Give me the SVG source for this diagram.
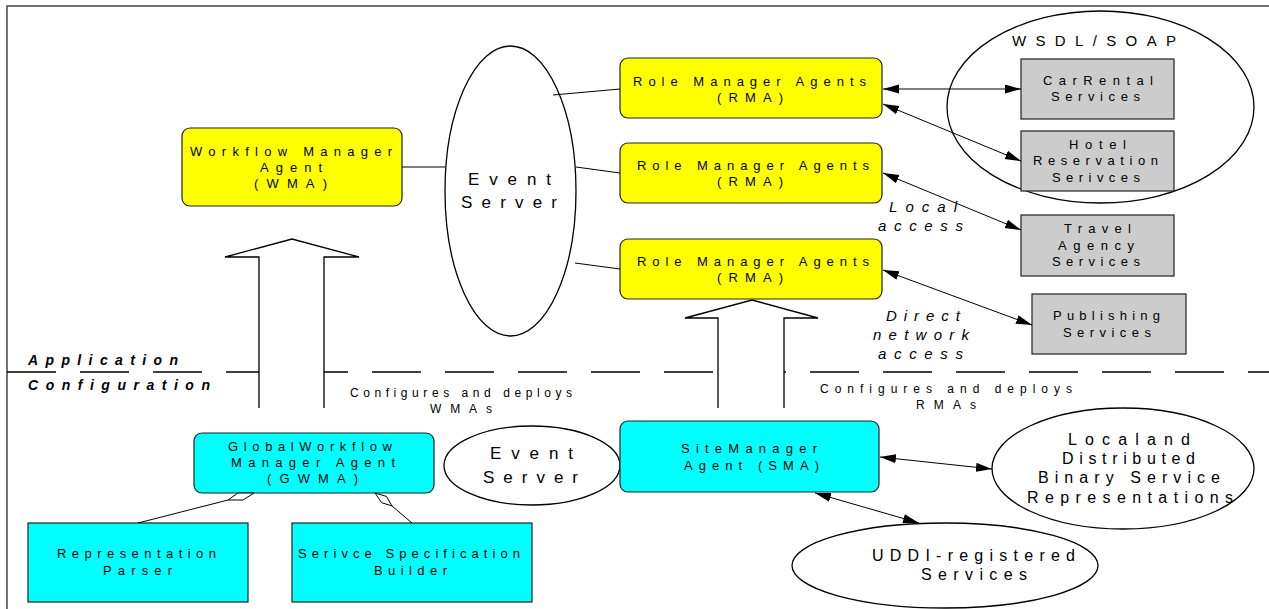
<svg xmlns="http://www.w3.org/2000/svg" width="1269" height="609" viewBox="0 0 1269 609">
  <defs>
    <style>
      text { font-family: "Liberation Sans", Arial, sans-serif; fill: #000; }
      .lbl { font-size: 13px; }
      .es { font-size: 17px; }
      .big { font-size: 16px; }
      .it { font-size: 15px; font-style: italic; }
      .layer { font-size: 14px; font-style: italic; font-weight: bold; }
      .cfg { font-size: 12px; }
      .yellow { fill: #ffff00; stroke: #222; stroke-width: 1.2; }
      .cyan { fill: #00ffff; stroke: #222; stroke-width: 1.2; }
      .grey { fill: #cccccc; stroke: #222; stroke-width: 1.2; }
      .oval { fill: #fff; stroke: #000; stroke-width: 1.3; }
      .line { fill: none; stroke: #000; stroke-width: 1; }
      .dbl { fill: none; stroke: #000; stroke-width: 1; marker-start: url(#head); marker-end: url(#head); }
      .hollow { fill: #fff; stroke: #000; stroke-width: 1.3; }
      .diamond { fill: #fff; stroke: #000; stroke-width: 1; }
    </style>
    <marker id="head" markerUnits="userSpaceOnUse" markerWidth="16" markerHeight="10" refX="16" refY="4.5" orient="auto-start-reverse">
      <path d="M0,0 L16,4.5 L0,9 z" fill="#000"/>
    </marker>
  </defs>

  <rect x="0" y="0" width="1269" height="609" fill="#fff"/>

  <!-- frame -->
  <path d="M7,609 V6 H1269" fill="none" stroke="#444" stroke-width="1.5"/>

  <!-- layer separator -->
  <line x1="7" y1="372" x2="1269" y2="372" stroke="#000" stroke-width="1.5" stroke-dasharray="49 24"/>
  <text class="layer" x="28" y="365" textLength="150" lengthAdjust="spacing">Application</text>
  <text class="layer" x="28" y="390" textLength="182" lengthAdjust="spacing">Configuration</text>

  <!-- deployment arrows -->
  <g id="deploy-wma">
    <polyline class="hollow" points="259,408 259,257 225,257 292,239 359,257 324,257 324,408"/>
    <text class="cfg" x="350" y="397" textLength="222" lengthAdjust="spacing">Configures and deploys</text>
    <text class="cfg" x="430" y="413" textLength="62" lengthAdjust="spacing">WMAs</text>
  </g>
  <g id="deploy-rma">
    <polyline class="hollow" points="718,408 718,318 685,318 752,300 818,318 784,318 784,408"/>
    <text class="cfg" x="820" y="393" textLength="252" lengthAdjust="spacing">Configures and deploys</text>
    <text class="cfg" x="916" y="409" textLength="60" lengthAdjust="spacing">RMAs</text>
  </g>

  <!-- access labels -->
  <g id="access-labels">
    <text class="it" x="889" y="212" textLength="68" lengthAdjust="spacing">Local</text>
    <text class="it" x="878" y="231" textLength="85" lengthAdjust="spacing">access</text>
    <text class="it" x="886" y="321" textLength="74" lengthAdjust="spacing">Direct</text>
    <text class="it" x="873" y="340" textLength="96" lengthAdjust="spacing">network</text>
    <text class="it" x="878" y="359" textLength="85" lengthAdjust="spacing">access</text>
  </g>

  <!-- application layer -->
  <g id="wma">
    <rect class="yellow" x="182" y="128" width="220" height="78" rx="8"/>
    <text class="lbl" x="190" y="156" textLength="202" lengthAdjust="spacing">Workflow Manager</text>
    <text class="lbl" x="260" y="172" textLength="62" lengthAdjust="spacing">Agent</text>
    <text class="lbl" x="254" y="188" textLength="73" lengthAdjust="spacing">(WMA)</text>
  </g>

  <g id="event-server">
    <ellipse class="oval" cx="510.5" cy="191" rx="65.5" ry="145"/>
    <text class="es" x="468" y="185" textLength="83" lengthAdjust="spacing">Event</text>
    <text class="es" x="461" y="208" textLength="96" lengthAdjust="spacing">Server</text>
  </g>

  <g id="rma-1">
    <rect class="yellow" x="620" y="58" width="262" height="60" rx="8"/>
    <text class="lbl" x="633" y="86" textLength="233" lengthAdjust="spacing">Role Manager Agents</text>
    <text class="lbl" x="717" y="102" textLength="66" lengthAdjust="spacing">(RMA)</text>
  </g>
  <g id="rma-2">
    <rect class="yellow" x="620" y="143" width="262" height="60" rx="8"/>
    <text class="lbl" x="637" y="170" textLength="232" lengthAdjust="spacing">Role Manager Agents</text>
    <text class="lbl" x="717" y="186" textLength="66" lengthAdjust="spacing">(RMA)</text>
  </g>
  <g id="rma-3">
    <rect class="yellow" x="620" y="239" width="262" height="60" rx="8"/>
    <text class="lbl" x="637" y="266" textLength="232" lengthAdjust="spacing">Role Manager Agents</text>
    <text class="lbl" x="717" y="282" textLength="66" lengthAdjust="spacing">(RMA)</text>
  </g>

  <g id="wsdl-soap">
    <ellipse class="oval" cx="1100.5" cy="107" rx="153.5" ry="96"/>
    <text x="1012" y="46" font-size="15" textLength="164" lengthAdjust="spacing">WSDL/SOAP</text>
  </g>

  <g id="car-rental">
    <rect class="grey" x="1021" y="59" width="153" height="60"/>
    <text class="lbl" x="1043" y="85" textLength="110" lengthAdjust="spacing">CarRental</text>
    <text class="lbl" x="1051" y="101" textLength="89" lengthAdjust="spacing">Services</text>
  </g>
  <g id="hotel">
    <rect class="grey" x="1021" y="131" width="153" height="60"/>
    <text class="lbl" x="1069" y="149" textLength="57" lengthAdjust="spacing">Hotel</text>
    <text class="lbl" x="1033" y="165" textLength="125" lengthAdjust="spacing">Reservation</text>
    <text class="lbl" x="1052" y="182" textLength="88" lengthAdjust="spacing">Serivces</text>
  </g>
  <g id="travel">
    <rect class="grey" x="1021" y="215" width="153" height="61"/>
    <text class="lbl" x="1064" y="233" textLength="67" lengthAdjust="spacing">Travel</text>
    <text class="lbl" x="1058" y="250" textLength="76" lengthAdjust="spacing">Agency</text>
    <text class="lbl" x="1052" y="266" textLength="88" lengthAdjust="spacing">Services</text>
  </g>
  <g id="publishing">
    <rect class="grey" x="1032" y="294" width="154" height="60"/>
    <text class="lbl" x="1053" y="320" textLength="107" lengthAdjust="spacing">Publishing</text>
    <text class="lbl" x="1063" y="337" textLength="88" lengthAdjust="spacing">Services</text>
  </g>

  <!-- configuration layer -->
  <g id="gwma">
    <rect class="cyan" x="194" y="433" width="240" height="60" rx="8"/>
    <text class="lbl" x="228" y="451" textLength="164" lengthAdjust="spacing">GlobalWorkflow</text>
    <text class="lbl" x="231" y="467" textLength="164" lengthAdjust="spacing">Manager Agent</text>
    <text class="lbl" x="267" y="483" textLength="91" lengthAdjust="spacing">(GWMA)</text>
  </g>

  <g id="event-server-cfg">
    <ellipse class="oval" cx="532" cy="465.5" rx="88" ry="39.5"/>
    <text class="es" x="490" y="459" textLength="83" lengthAdjust="spacing">Event</text>
    <text class="es" x="483" y="483" textLength="95" lengthAdjust="spacing">Server</text>
  </g>

  <g id="sma">
    <rect class="cyan" x="620" y="421" width="259" height="71" rx="8"/>
    <text class="lbl" x="681" y="453" textLength="136" lengthAdjust="spacing">SiteManager</text>
    <text class="lbl" x="684" y="470" textLength="135" lengthAdjust="spacing">Agent (SMA)</text>
  </g>

  <g id="representation-parser">
    <rect class="cyan" x="28" y="523" width="220" height="79"/>
    <text class="lbl" x="57" y="558" textLength="159" lengthAdjust="spacing">Representation</text>
    <text class="lbl" x="103" y="575" textLength="69" lengthAdjust="spacing">Parser</text>
  </g>

  <g id="spec-builder">
    <rect class="cyan" x="292" y="523" width="240" height="79"/>
    <text class="lbl" x="298" y="558" textLength="222" lengthAdjust="spacing">Serivce Specification</text>
    <text class="lbl" x="374" y="575" textLength="73" lengthAdjust="spacing">Builder</text>
  </g>

  <g id="local-binary">
    <ellipse class="oval" cx="1123" cy="468.5" rx="131" ry="60.5"/>
    <text class="big" x="1068" y="445" textLength="122" lengthAdjust="spacing">Localand</text>
    <text class="big" x="1062" y="464" textLength="133" lengthAdjust="spacing">Distributed</text>
    <text class="big" x="1038" y="483" textLength="182" lengthAdjust="spacing">Binary Service</text>
    <text class="big" x="1027" y="503" textLength="206" lengthAdjust="spacing">Representations</text>
  </g>

  <g id="uddi">
    <ellipse class="oval" cx="945" cy="565.5" rx="153" ry="42.5"/>
    <text class="big" x="872" y="561" textLength="203" lengthAdjust="spacing">UDDI-registered</text>
    <text class="big" x="921" y="580" textLength="106" lengthAdjust="spacing">Services</text>
  </g>

  <!-- connectors -->
  <g id="connectors">
    <line class="line" x1="402" y1="167" x2="445" y2="167"/>
    <line class="line" x1="553" y1="95" x2="620" y2="89"/>
    <line class="line" x1="576" y1="167" x2="620" y2="173"/>
    <line class="line" x1="575" y1="263" x2="620" y2="269"/>

    <line class="dbl" x1="883" y1="89" x2="1021" y2="89"/>
    <line class="dbl" x1="883" y1="104" x2="1021" y2="161"/>
    <line class="dbl" x1="883" y1="173" x2="1021" y2="230"/>
    <line class="dbl" x1="883" y1="270" x2="1032" y2="325"/>
    <line class="dbl" x1="880" y1="457" x2="992" y2="469"/>
    <line class="dbl" x1="815" y1="493" x2="919" y2="523"/>

    <!-- aggregation links to GWMA -->
    <line class="line" x1="138" y1="523" x2="228" y2="500"/>
    <polygon class="diamond" points="228,500 243,500 254,493 238,493"/>
    <line class="line" x1="412" y1="523" x2="392" y2="506"/>
    <polygon class="diamond" points="392,506 386.5,496.4 375,493 381.5,502.6"/>
  </g>
</svg>
